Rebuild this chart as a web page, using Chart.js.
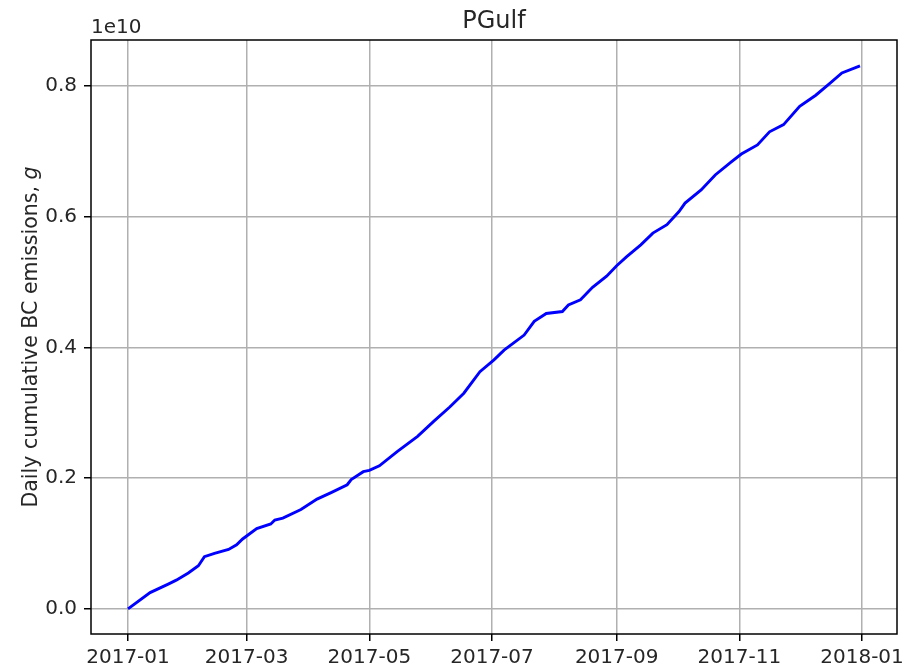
<!DOCTYPE html>
<html>
<head>
<meta charset="utf-8">
<script src="https://cdn.jsdelivr.net/npm/chart.js@4/dist/chart.umd.min.js"></script>
<style>
html,body{margin:0;padding:0;background:#fff;}
#wrap{width:904px;height:671px;position:relative;}
</style>
</head>
<body>
<div id="wrap"><canvas id="c" width="904" height="671"></canvas></div>
<script>
// Data (values in units of 1e10 g)
const dates = ['2017-01-01','2017-01-12','2017-01-21','2017-01-25','2017-01-31','2017-02-05','2017-02-08','2017-02-13','2017-02-20','2017-02-24','2017-02-27','2017-03-06','2017-03-13','2017-03-15','2017-03-19','2017-03-28','2017-04-05','2017-04-12','2017-04-20','2017-04-22','2017-04-28','2017-05-01','2017-05-06','2017-05-15','2017-05-25','2017-06-02','2017-06-10','2017-06-17','2017-06-25','2017-07-02','2017-07-07','2017-07-17','2017-07-22','2017-07-28','2017-08-05','2017-08-08','2017-08-14','2017-08-20','2017-08-27','2017-09-01','2017-09-06','2017-09-13','2017-09-19','2017-09-26','2017-10-02','2017-10-05','2017-10-13','2017-10-20','2017-10-28','2017-11-02','2017-11-10','2017-11-16','2017-11-23','2017-12-01','2017-12-09','2017-12-16','2017-12-22','2017-12-31'];
const values = [0.000,0.025,0.038,0.044,0.055,0.066,0.080,0.085,0.091,0.098,0.107,0.123,0.130,0.136,0.139,0.152,0.168,0.178,0.190,0.198,0.210,0.212,0.219,0.241,0.264,0.287,0.309,0.330,0.363,0.381,0.396,0.419,0.440,0.452,0.455,0.465,0.473,0.492,0.509,0.525,0.539,0.557,0.575,0.588,0.608,0.621,0.641,0.664,0.684,0.696,0.710,0.730,0.741,0.769,0.786,0.804,0.820,0.831];
const xTickDates = ['2017-01-01','2017-03-01','2017-05-01','2017-07-01','2017-09-01','2017-11-01','2018-01-01'];
const xTickLabels = ['2017-01','2017-03','2017-05','2017-07','2017-09','2017-11','2018-01'];
const yTicks = [0.0,0.2,0.4,0.6,0.8];
const yTickLabels = ['0.0','0.2','0.4','0.6','0.8'];
const titleText = 'PGulf';
const yLabelText = 'Daily cumulative BC emissions, ';
const yLabelItalic = 'g';
const offsetText = '1e10';

const DAY = 86400000;
const base = Date.UTC(2017,0,1);
function dayOf(s){const p=s.split('-').map(Number);return (Date.UTC(p[0],p[1]-1,p[2])-base)/DAY;}
const points = dates.map((d,i)=>({x:dayOf(d),y:values[i]}));
const xTickVals = xTickDates.map(dayOf);

const FONT = 'DejaVu Sans';
const decor = {
  id:'decor',
  afterDraw(chart){
    const ctx = chart.ctx, a = chart.chartArea;
    ctx.save();
    ctx.strokeStyle = '#000'; ctx.lineWidth = 1.5;
    ctx.strokeRect(a.left, a.top, a.right-a.left, a.bottom-a.top);
    ctx.fillStyle = '#262626';
    ctx.font = '24px "'+FONT+'"';
    ctx.textAlign = 'center'; ctx.textBaseline = 'alphabetic';
    ctx.fillText(titleText, (a.left+a.right)/2, 28);
    ctx.font = '20px "'+FONT+'"';
    ctx.textAlign = 'left';
    ctx.fillText(offsetText, a.left, 33);
    // y label
    ctx.translate(37, (a.top+a.bottom)/2);
    ctx.rotate(-Math.PI/2);
    ctx.font = '20.5px "'+FONT+'"';
    const w1 = ctx.measureText(yLabelText).width;
    ctx.font = 'italic 20.5px "'+FONT+'"';
    const w2 = ctx.measureText(yLabelItalic).width;
    const start = -(w1+w2)/2;
    ctx.textAlign = 'left';
    ctx.font = '20.5px "'+FONT+'"';
    ctx.fillText(yLabelText, start, 0);
    ctx.font = 'italic 20.5px "'+FONT+'"';
    ctx.fillText(yLabelItalic, start+w1, 0);
    ctx.restore();
  }
};

new Chart(document.getElementById('c'), {
  type:'line',
  data:{datasets:[{data:points,borderColor:'#0000ff',borderWidth:2.9,pointRadius:0,tension:0,fill:false}]},
  options:{
    responsive:false, animation:false,
    layout:{padding:{left:0,right:7,top:40,bottom:0}},
    plugins:{legend:{display:false},tooltip:{enabled:false}},
    scales:{
      x:{type:'linear',min:-18.4,max:382.4,
        afterBuildTicks(s){s.ticks = xTickVals.map(v=>({value:v}));},
        afterFit(s){s.height = 37; s.paddingLeft = 0; s.paddingRight = 0;},
        ticks:{color:'#262626',font:{family:FONT,size:20},padding:5,maxRotation:0,autoSkip:false,
          callback(v){const i=xTickVals.indexOf(v);return i>=0?xTickLabels[i]:'';}},
        grid:{color:'#b0b0b0',lineWidth:1.5,tickLength:7,tickColor:'#000',tickWidth:1.5},
        border:{display:false}
      },
      y:{type:'linear',min:-0.0384,max:0.8705,
        afterBuildTicks(s){s.ticks = yTicks.map(v=>({value:v}));},
        afterFit(s){s.width = 91; s.paddingTop = 0; s.paddingBottom = 0;},
        ticks:{color:'#262626',font:{family:FONT,size:20},padding:7,autoSkip:false,
          callback(v){const i=yTicks.findIndex(t=>Math.abs(t-v)<1e-9);return i>=0?yTickLabels[i]:'';}},
        grid:{color:'#b0b0b0',lineWidth:1.5,tickLength:7,tickColor:'#000',tickWidth:1.5},
        border:{display:false}
      }
    }
  },
  plugins:[decor]
});
</script>
</body>
</html>
